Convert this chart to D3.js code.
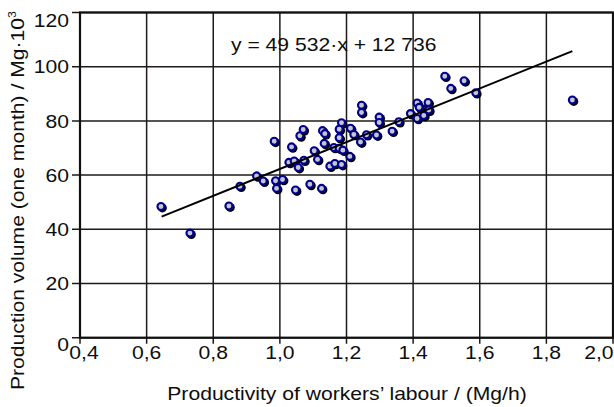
<!DOCTYPE html>
<html><head><meta charset="utf-8">
<script src="https://cdn.jsdelivr.net/npm/d3@7"></script>
<style>
body{margin:0;background:#fff}
svg{display:block}
text{font-family:"Liberation Sans",Arial,sans-serif;fill:#0d0d0d}
</style></head><body>
<script>
// ---- data ----
const xVals = [0.643,0.730,0.847,0.880,0.930,0.950,0.983,0.987,0.990,1.008,
  1.027,1.035,1.043,1.047,1.055,1.072,1.060,1.070,1.090,1.103,
  1.113,1.125,1.128,1.135,1.133,1.150,1.165,1.185,1.162,1.178,
  1.185,1.178,1.178,1.210,1.212,1.222,1.245,1.245,1.242,1.260,
  1.290,1.298,1.298,1.337,1.357,1.392,1.412,1.412,1.430,1.432,
  1.445,1.495,1.513,1.553,1.588,1.878,1.189,1.418,1.447];
const yVals = [48.4,38.6,48.6,55.9,59.7,57.8,72.5,57.9,55.1,58.4,
  64.7,70.4,65.2,54.5,62.8,65.5,74.5,76.8,56.6,69.0,
  65.8,55.1,76.4,75.3,71.7,63.3,64.3,63.9,70.2,69.9,
  79.3,76.9,73.8,66.9,77.3,75.0,85.8,83.1,72.2,74.9,
  74.8,81.4,79.4,76.2,79.7,82.7,86.6,80.9,84.4,82.0,
  86.8,96.5,92.0,94.8,90.4,87.7,69.2,85.0,84.0];
const xTicks = [0.4,0.6,0.8,1.0,1.2,1.4,1.6,1.8,2.0];
const xTickLabels = ["0,4","0,6","0,8","1,0","1,2","1,4","1,6","1,8","2,0"];
const yTicks = [0,20,40,60,80,100,120];
const yTickLabels = ["0","20","40","60","80","100","120"];
const fitSlope = 49.532, fitIntercept = 12.736;
const fitRange = [0.645, 1.878];
const equationText = "y = 49 532·x + 12 736";
const xTitle = "Productivity of workers’ labour / (Mg/h)";
const yTitleMain = "Production volume (one month) / Mg·10";
const yTitleSup = "3";

// ---- layout ----
const W = 614, H = 407;
const L = 80, R = 613, T = 12.5, B = 337.7;
const FS = 18.7, SX = 1.13;

const svg = d3.select("body").append("svg").attr("width", W).attr("height", H);
const x = d3.scaleLinear().domain([0.4, 2.0]).range([L, R]);
const y = d3.scaleLinear().domain([0, 120]).range([B, T]);

// grid
const grid = svg.append("g").attr("stroke", "#1e1a1a").attr("stroke-width", 1.5);
grid.selectAll(".gx").data(xTicks).join("line")
  .attr("x1", d => x(d)).attr("x2", d => x(d)).attr("y1", T).attr("y2", B + 6);
grid.selectAll(".gy").data(yTicks).join("line")
  .attr("x1", L - 8).attr("x2", R).attr("y1", d => y(d)).attr("y2", d => y(d));

// frame
svg.append("rect").attr("x", L).attr("y", T).attr("width", R - L).attr("height", B - T)
  .attr("fill", "none").attr("stroke", "#111").attr("stroke-width", 2.2);

// points
const pts = svg.append("g");
xVals.forEach((xv, i) => {
  const g = pts.append("g");
  g.append("circle").attr("cx", x(xv) + 1.4).attr("cy", y(yVals[i]) + 1.4).attr("r", 4.5).attr("fill", "#000");
  g.append("circle").attr("cx", x(xv)).attr("cy", y(yVals[i])).attr("r", 3.5)
    .attr("fill", "#c6c6ca").attr("stroke", "#000090").attr("stroke-width", 2.1);
});

// fit line
svg.append("line")
  .attr("x1", x(fitRange[0])).attr("y1", y(fitIntercept + fitSlope * fitRange[0]))
  .attr("x2", x(fitRange[1])).attr("y2", y(fitIntercept + fitSlope * fitRange[1]))
  .attr("stroke", "#000").attr("stroke-width", 2);

function txt(px, py, s, anchor) {
  return svg.append("text").attr("transform", `translate(${px},${py}) scale(${SX},1)`)
    .attr("text-anchor", anchor).attr("font-size", FS).text(s);
}

// y tick labels
yTicks.forEach((t, i) => {
  let cy = y(t);
  if (t === 0) cy += 7;
  if (t === 120) cy += 8;
  txt(69, cy + 6.7, yTickLabels[i], "end");
});
// x tick labels
xTicks.forEach((t, i) => {
  if (i === xTicks.length - 1) txt(R + 0.5, 359, xTickLabels[i], "end");
  else txt(x(t) + (i === 0 ? 4 : 0), 359, xTickLabels[i], "middle");
});

// equation
txt(231, 51, equationText, "start");

// axis titles
txt(347, 400, xTitle, "middle");
const yt = svg.append("text").attr("transform", `translate(24,390) rotate(-90) scale(${SX},1)`)
  .attr("text-anchor", "start").attr("font-size", FS);
yt.append("tspan").text(yTitleMain);
yt.append("tspan").attr("font-size", 11).attr("dy", -8).text(yTitleSup);
</script>
</body></html>
